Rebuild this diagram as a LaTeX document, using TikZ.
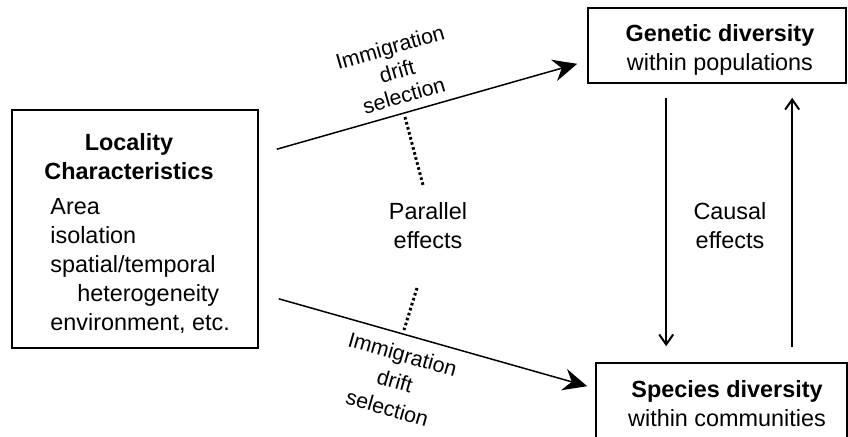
\documentclass[tikz,border=0pt]{standalone}
\usepackage{fontspec}
\setmainfont{Liberation Sans}
\usetikzlibrary{arrows.meta,calc}

\begin{document}
\begin{tikzpicture}[x=0.5pt,y=-0.5pt,
    box/.style={draw,line width=0.8pt,inner sep=0pt},
    txt/.style={align=center,font=\fontsize{11.7}{14.5}\selectfont},
    head/.style={align=center,font=\fontsize{11.7}{14.5}\selectfont\bfseries},
    bigarrow/.style={line width=0.75pt,-{Stealth[length=12pt,width=11pt,inset=4pt]}},
    thinarrow/.style={line width=1pt,-{Straight Barb[length=5pt,width=7pt]}},
    dotline/.style={line width=1.5pt,dash pattern=on 1.3pt off 1.3pt}]
    \useasboundingbox (0,0) rectangle (848,436);
    % the three boxes
    \node[box,minimum width=123pt,minimum height=119pt] (loc) at (135,229) {};
    \node[box,minimum width=129pt,minimum height=37.5pt] (gen) at (717,45.5) {};
    \node[box,minimum width=125.5pt,minimum height=41pt] (spe) at (721.5,404) {};
    % what is written in the boxes
    \node[head] (loctitle) at (129,157) {Locality\\Characteristics};
    \node[txt,align=left,anchor=west,inner sep=0pt] (loclist) at (50,266) {Area\\isolation\\spatial/temporal\\\hspace*{13.5pt}heterogeneity\\environment, etc.};
    \node[txt] (gentext) at (720,50) {{\bfseries Genetic diversity}\\within populations};
    \node[txt] (spetext) at (727,404) {{\bfseries Species diversity}\\within communities};
    % the middle labels
    \node[txt] (par) at (428,226) {Parallel\\effects};
    \node[txt] (cau) at (730,226) {Causal\\effects};
    \node[align=center,font=\fontsize{10.7}{12.5}\selectfont,rotate=16] (uplbl) at (397,71) {Immigration\\drift\\selection};
    \node[align=center,font=\fontsize{10.7}{14}\selectfont,rotate=-16] (lowlbl) at (395,381) {Immigration\\drift\\selection};
    % the arrows out of the locality box
    \draw[bigarrow] ($(loc.north east)+(18,40)$) -- ($(gen.south west)+(-10,-20)$);
    \draw[bigarrow] ($(loc.south east)+(20,-50)$) -- ($(spe.north west)+(-8,24)$);
    % the causal arrows
    \draw[thinarrow] ($(gen.south west)+(79,14)$) -- ($(spe.north west)+(71,-16)$);
    \draw[thinarrow] ($(spe.north west)+(197,-15)$) -- ($(gen.south west)+(205,14)$);
    % the dotted lines
    \coordinate (d1) at (405,117);
    \coordinate (d2) at (423,185);
    \coordinate (d3) at (417,288);
    \coordinate (d4) at (404,330);
    \draw[dotline] (d1) -- (d2);
    \draw[dotline] (d3) -- (d4);
\end{tikzpicture}
\end{document}
